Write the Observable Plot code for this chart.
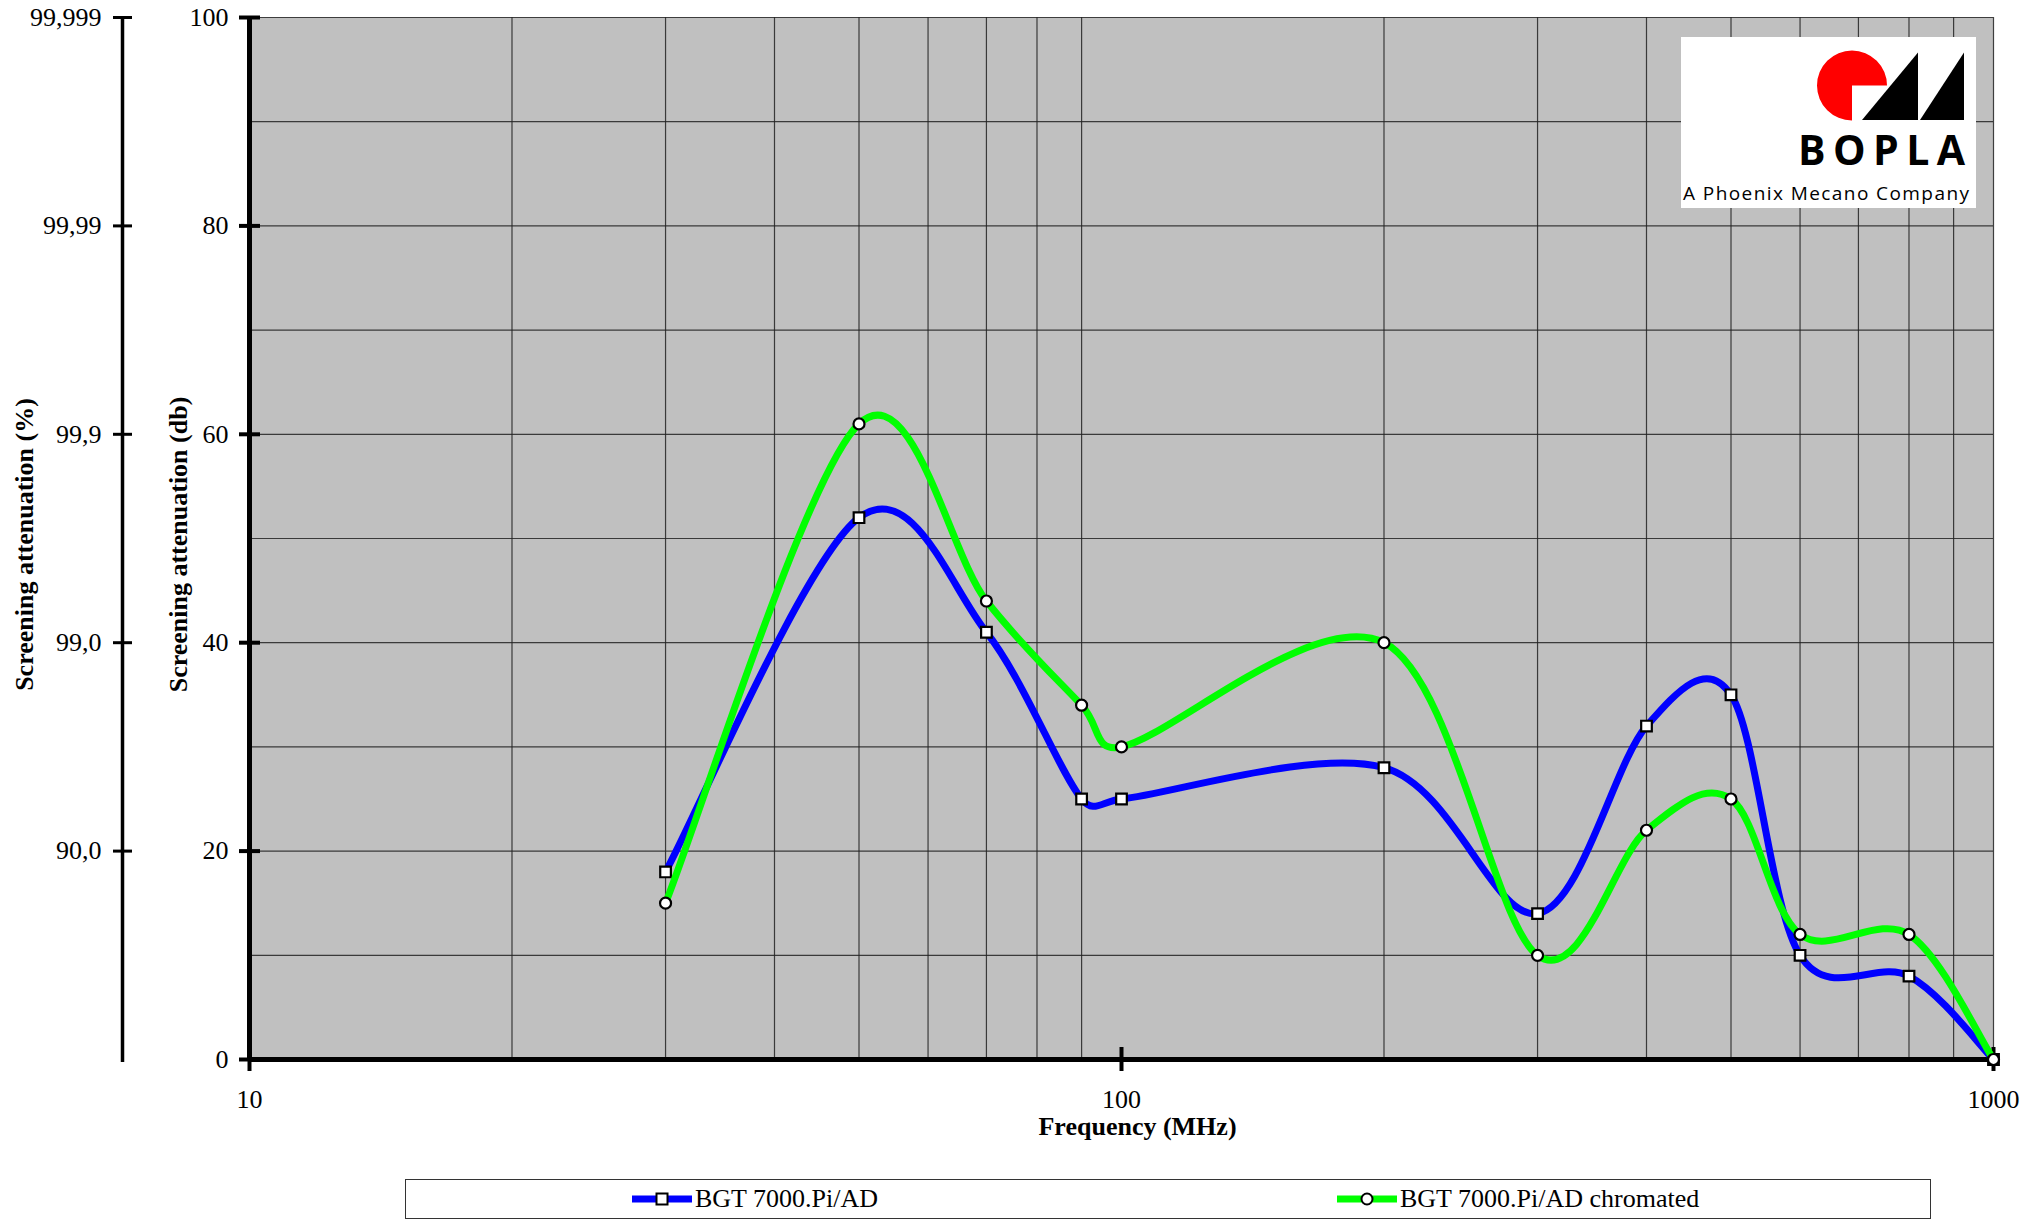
<!DOCTYPE html>
<html><head><meta charset="utf-8">
<script src="https://cdn.jsdelivr.net/npm/d3@7"></script>
<script src="https://cdn.jsdelivr.net/npm/@observablehq/plot@0.6"></script>
<style>
body{margin:0;background:#fff;font-family:"Liberation Serif","Times New Roman",serif;}
#wrap{position:relative;width:2042px;height:1224px;overflow:hidden;}
#chart{position:absolute;left:0;top:0;}
#logo{position:absolute;left:1681px;top:37px;width:295px;height:171px;background:#fff;}
#legend{position:absolute;left:405px;top:1179px;width:1526px;height:40px;border:1px solid #333;box-sizing:border-box;}
.item{position:absolute;top:0;height:100%;display:flex;align-items:center;font-size:26px;color:#000;white-space:nowrap;}
.item svg{margin-right:3px;}
</style></head><body>
<div id="wrap"><div id="chart"></div><div id="logo"></div><div id="legend"></div></div>
<script>
// ---- data ----
const freqs = [30, 50, 70, 90, 100, 200, 300, 400, 500, 600, 800, 1000];
const blueDb = [18, 52, 41, 25, 25, 28, 14, 32, 35, 10, 8, 0];
const greenDb = [15, 61, 44, 34, 30, 40, 10, 22, 25, 12, 12, 0];
const seriesNames = ["BGT 7000.Pi/AD", "BGT 7000.Pi/AD chromated"];
const seriesColors = ["#0000ff", "#00ff00"];
const dbTicks = [0, 20, 40, 60, 80, 100];
const pctTicks = [20, 40, 60, 80, 100];
const pctLabels = ["90,0", "99,0", "99,9", "99,99", "99,999"];
const freqTicks = [10, 100, 1000];
const freqLabels = ["10", "100", "1000"];
const freqGrid = [20, 30, 40, 50, 60, 70, 80, 90, 200, 300, 400, 500, 600, 700, 800, 900, 1000];
const dbGrid = [10, 20, 30, 40, 50, 60, 70, 80, 90, 100];
const yTitle = "Screening attenuation (db)";
const pctTitle = "Screening attenuation (%)";
const xTitle = "Frequency (MHz)";

const blue = freqs.map((f, i) => ({f, db: blueDb[i]}));
const green = freqs.map((f, i) => ({f, db: greenDb[i]}));

// Spreadsheet-style smoothed line: Catmull-Rom tangents, capped on short segments
function smoothCurve(context) {
  let pts;
  const K = 0.5;
  return {
    areaStart() {}, areaEnd() {},
    lineStart() { pts = []; },
    point(x, y) { pts.push([+x, +y]); },
    lineEnd() {
      const n = pts.length;
      if (!n) return;
      context.moveTo(pts[0][0], pts[0][1]);
      if (n === 1) return;
      const tang = pts.map((p, i) => {
        const a = pts[Math.max(0, i - 1)], b = pts[Math.min(n - 1, i + 1)];
        return [(b[0] - a[0]) / 6, (b[1] - a[1]) / 6];
      });
      for (let i = 0; i < n - 1; i++) {
        const p1 = pts[i], p2 = pts[i + 1];
        const seg = Math.hypot(p2[0] - p1[0], p2[1] - p1[1]);
        const cap = t => {
          const l = Math.hypot(t[0], t[1]), m = seg * K;
          return l > m && l > 0 ? [t[0] * m / l, t[1] * m / l] : t;
        };
        const t1 = cap(tang[i]), t2 = cap(tang[i + 1]);
        context.bezierCurveTo(p1[0] + t1[0], p1[1] + t1[1], p2[0] - t2[0], p2[1] - t2[1], p2[0], p2[1]);
      }
    }
  };
}

const serif = "Liberation Serif, Times New Roman, serif";
const gridStyle = {stroke: "#222", strokeWidth: 1.2, strokeOpacity: 0.85};

const chart = Plot.plot({
  width: 2042,
  height: 1170,
  marginTop: 17,
  marginBottom: 111,
  marginLeft: 249,
  marginRight: 49,
  style: {fontFamily: serif, fontSize: "26px", color: "#000", background: "transparent", overflow: "visible"},
  x: {type: "log", domain: [10, 1000]},
  y: {domain: [0, 100]},
  marks: [
    Plot.frame({fill: "#c0c0c0", stroke: "none"}),
    Plot.ruleX(freqGrid, gridStyle),
    Plot.ruleY(dbGrid, gridStyle),
    // dB axis
    Plot.axisY({ticks: dbTicks, tickSize: 10, tickPadding: 11, strokeWidth: 4, label: null, fontSize: 26}),
    Plot.axisY({ticks: dbTicks, tickSize: 11, dx: 11, strokeWidth: 4, label: null, tickFormat: () => ""}),
    // percent axis
    Plot.axisY({ticks: pctTicks, tickFormat: d => pctLabels[pctTicks.indexOf(d)], dx: -127, tickSize: 9, tickPadding: 12, strokeWidth: 3, label: null, fontSize: 26}),
    Plot.axisY({ticks: pctTicks, tickFormat: () => "", dx: -117, tickSize: 10, strokeWidth: 3, label: null}),
    Plot.ruleX([10], {dx: -127, strokeWidth: 3.5, stroke: "#000", insetBottom: -3}),
    // x axis
    Plot.axisX({ticks: freqTicks, tickFormat: d => freqLabels[freqTicks.indexOf(d)], tickSize: 12, tickPadding: 18, strokeWidth: 4, label: null, fontSize: 26}),
    Plot.axisX({ticks: freqTicks, tickFormat: () => "", tickSize: 12, dy: -12, strokeWidth: 4, label: null}),
    Plot.ruleX([10], {strokeWidth: 5, stroke: "#000"}),
    Plot.ruleY([0], {strokeWidth: 5, stroke: "#000"}),
    // series
    Plot.lineY(blue, {x: "f", y: "db", stroke: seriesColors[0], strokeWidth: 7, curve: smoothCurve}),
    Plot.dot(blue, {x: "f", y: "db", symbol: "square", r: 6, fill: "#fff", stroke: "#000", strokeWidth: 2.2}),
    Plot.lineY(green, {x: "f", y: "db", stroke: seriesColors[1], strokeWidth: 7, curve: smoothCurve}),
    Plot.dot(green, {x: "f", y: "db", symbol: "circle", r: 5.5, fill: "#fff", stroke: "#000", strokeWidth: 2.2}),
    // titles
    Plot.text([yTitle], {text: d => d, frameAnchor: "left", textAnchor: "middle", lineAnchor: "middle", rotate: -90, dx: -71, dy: 6, fontWeight: "bold", fontSize: 26}),
    Plot.text([pctTitle], {text: d => d, frameAnchor: "left", textAnchor: "middle", lineAnchor: "middle", rotate: -90, dx: -225, dy: 6, fontWeight: "bold", fontSize: 26}),
    Plot.text([xTitle], {text: d => d, frameAnchor: "bottom", textAnchor: "middle", lineAnchor: "middle", dx: 16, dy: 67, fontWeight: "bold", fontSize: 26})
  ]
});
document.getElementById("chart").appendChild(chart);

// ---- logo ----
document.getElementById("logo").innerHTML = `
<svg width="295" height="171" xmlns="http://www.w3.org/2000/svg">
  <path d="M171 48.5 L206 48.5 A35 35 0 1 0 171 83.5 Z" fill="#ff0000"/>
  <path d="M181 83 L237 15.5 L237 83 Z" fill="#000"/>
  <path d="M239 83 L283 15.5 L283 83 Z" fill="#000"/>
  <text x="117" y="128" font-family="Open Sans, Noto Sans, sans-serif" font-weight="bold" font-size="41" textLength="167" lengthAdjust="spacing">BOPLA</text>
  <text x="2" y="163" font-family="Open Sans, Noto Sans, sans-serif" font-size="19" textLength="286" lengthAdjust="spacing">A Phoenix Mecano Company</text>
</svg>`;

// ---- legend ----
const legend = document.getElementById("legend");
const itemLefts = [226, 931];
const markers = [
  '<rect x="24.5" y="4.5" width="11" height="11" fill="#fff" stroke="#000" stroke-width="2"/>',
  '<circle cx="30" cy="10" r="5.5" fill="#fff" stroke="#000" stroke-width="2"/>'
];
seriesNames.forEach((name, i) => {
  const div = document.createElement("div");
  div.className = "item";
  div.style.left = itemLefts[i] + "px";
  div.innerHTML = `<svg width="60" height="20"><line x1="0" x2="60" y1="10" y2="10" stroke="${seriesColors[i]}" stroke-width="7"/>${markers[i]}</svg><span>${name}</span>`;
  legend.appendChild(div);
});
</script>
</body></html>
